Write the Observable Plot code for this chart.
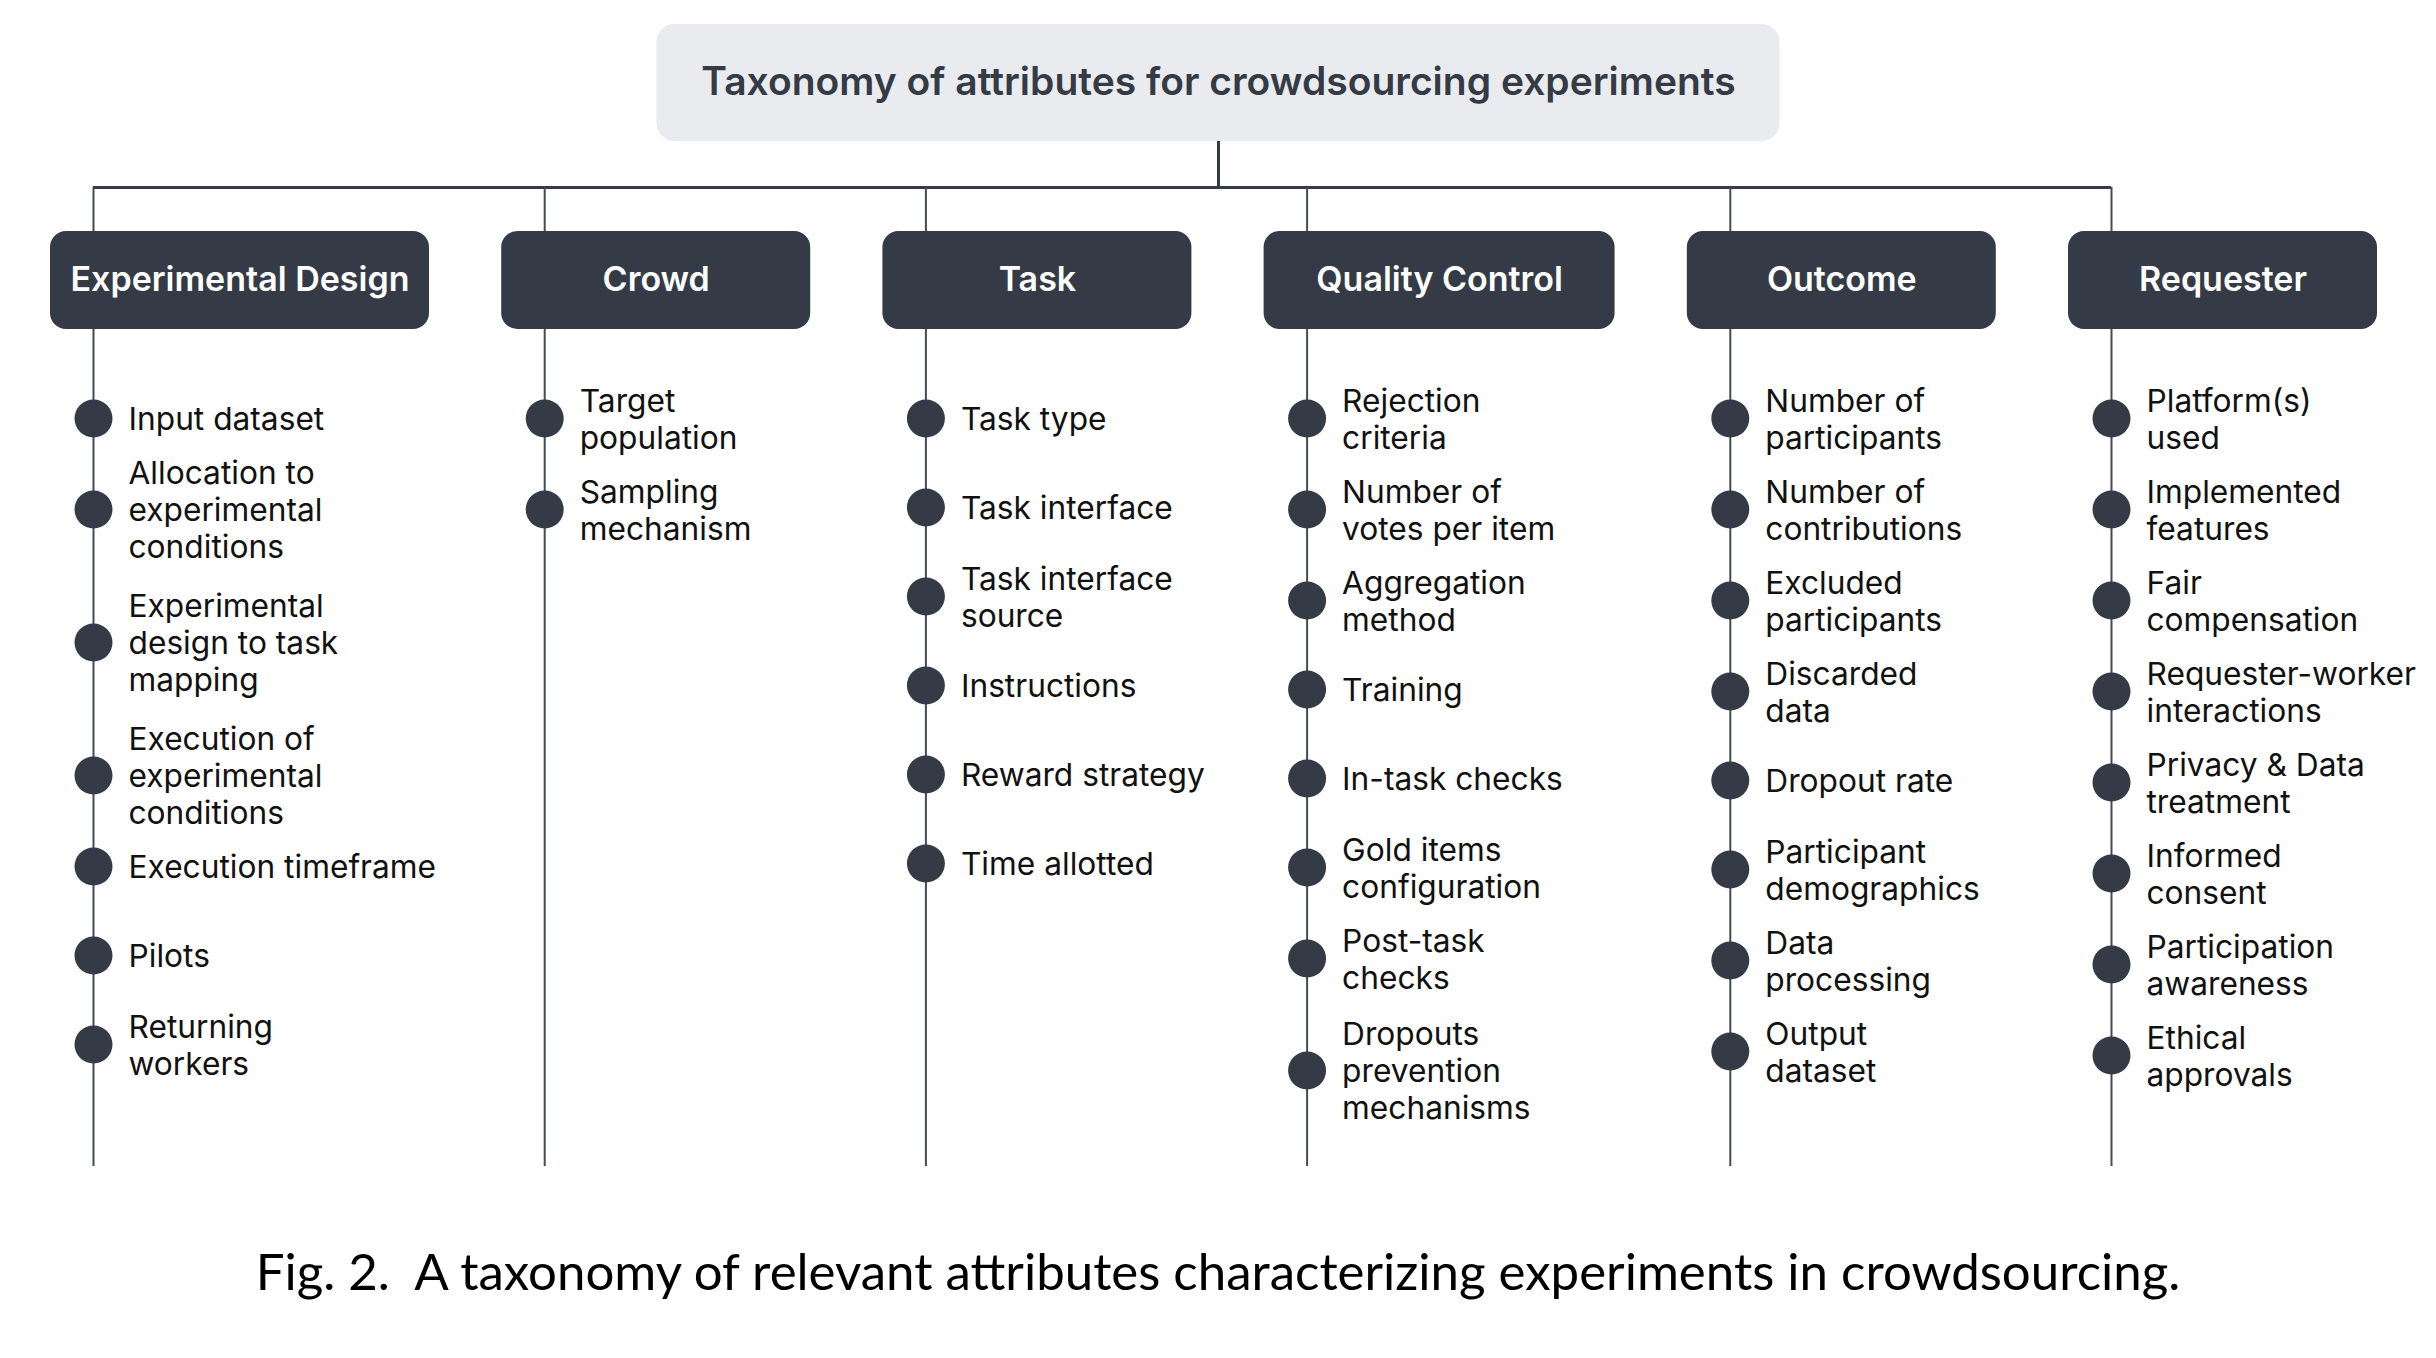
<!DOCTYPE html>
<html><head><meta charset="utf-8">
<script src="https://cdn.jsdelivr.net/npm/d3@7"></script>
<script src="https://cdn.jsdelivr.net/npm/@observablehq/plot@0.6"></script>
<style>
html,body{margin:0;padding:0;background:#fff;}
#chart svg{display:block;}
#caption{font-family:Lato,"Open Sans",sans-serif;font-size:51px;text-align:center;line-height:112px;height:143px;color:#000;white-space:pre;}
</style></head><body>
<div id="chart"></div>
<div id="caption"></div>
<script>
// ---- data ----
const rootTitle = "Taxonomy of attributes for crowdsourcing experiments";
const categories = ["Experimental Design", "Crowd", "Task", "Quality Control", "Outcome", "Requester"];
const experimentalDesignItems = ["Input dataset", "Allocation to\nexperimental\nconditions", "Experimental\ndesign to task\nmapping", "Execution of\nexperimental\nconditions", "Execution timeframe", "Pilots", "Returning\nworkers"];
const crowdItems = ["Target\npopulation", "Sampling\nmechanism"];
const taskItems = ["Task type", "Task interface", "Task interface\nsource", "Instructions", "Reward strategy", "Time allotted"];
const qualityControlItems = ["Rejection\ncriteria", "Number of\nvotes per item", "Aggregation\nmethod", "Training", "In-task checks", "Gold items\nconfiguration", "Post-task\nchecks", "Dropouts\nprevention\nmechanisms"];
const outcomeItems = ["Number of\nparticipants", "Number of\ncontributions", "Excluded\nparticipants", "Discarded\ndata", "Dropout rate", "Participant\ndemographics", "Data\nprocessing", "Output\ndataset"];
const requesterItems = ["Platform(s)\nused", "Implemented\nfeatures", "Fair\ncompensation", "Requester-worker\ninteractions", "Privacy & Data\ntreatment", "Informed\nconsent", "Participation\nawareness", "Ethical\napprovals"];
const captionText = "Fig. 2.  A taxonomy of relevant attributes characterizing experiments in crowdsourcing.";

const itemLists = [experimentalDesignItems, crowdItems, taskItems, qualityControlItems, outcomeItems, requesterItems];

// ---- layout rules ----
const W = 2436, H = 1215;
const L = {left: 50, right: 2377, boxTop: 231, boxH: 98, boxMinW: 309, boxPerChar: 7,
  lineOffset: 43, textOffset: 35, rootTop: 24, rootH: 117, rootPerChar: 21.6, busY: 187,
  firstItemY: 418, lineBottom: 1166, minStep: 89, perLine: 21, stepBase: 7};
const dark = "#353b46", lineColor = "#454a53";
const sans = "Inter, 'Noto Sans', 'Liberation Sans', sans-serif";

const boxW = categories.map(c => L.boxMinW + Math.max(0, c.length - 9) * L.boxPerChar);
const gap = (L.right - L.left - d3.sum(boxW)) / (categories.length - 1);
let cursor = L.left;
const columns = categories.map((name, i) => {
  const c = {name, x1: cursor, x2: cursor + boxW[i], lineX: cursor + L.lineOffset};
  cursor += boxW[i] + gap;
  return c;
});
const items = [];
columns.forEach((col, i) => {
  const list = itemLists[i];
  let y = L.firstItemY;
  list.forEach((label, j) => {
    const n = label.split("\n").length;
    if (j > 0) {
      const p = list[j - 1].split("\n").length;
      y += Math.max(L.minStep, L.perLine * (p + n) + L.stepBase);
    }
    items.push({category: col.name, label, x: col.lineX, y});
  });
});
const cx = W / 2;
const rootW = rootTitle.length * L.rootPerChar;
const root = [{title: rootTitle, x1: cx - rootW / 2, x2: cx + rootW / 2, y1: L.rootTop, y2: L.rootTop + L.rootH, cx}];
const bus = [{x1: columns[0].lineX, x2: columns[columns.length - 1].lineX, y: L.busY}];

const chart = Plot.plot({
  width: W, height: H, margin: 0,
  style: {fontFamily: sans, background: "#fff"},
  x: {domain: [0, W], range: [0, W], axis: null},
  y: {domain: [0, H], range: [0, H], axis: null},
  marks: [
    Plot.rect(root, {x1: "x1", x2: "x2", y1: "y1", y2: "y2", fill: "#e9ebef", rx: 18}),
    Plot.text(root, {x: "cx", y: d => (d.y1 + d.y2) / 2, text: "title", fontSize: 39, fontWeight: 600, fill: "#353b45"}),
    Plot.ruleX(root, {x: "cx", y1: "y2", y2: () => L.busY, stroke: dark, strokeWidth: 3}),
    Plot.ruleY(bus, {y: "y", x1: "x1", x2: "x2", stroke: dark, strokeWidth: 3}),
    Plot.ruleX(columns, {x: "lineX", y1: () => L.busY, y2: () => L.boxTop, stroke: lineColor, strokeWidth: 2}),
    Plot.ruleX(columns, {x: "lineX", y1: () => L.boxTop + L.boxH, y2: () => L.lineBottom, stroke: lineColor, strokeWidth: 2}),
    Plot.rect(columns, {x1: "x1", x2: "x2", y1: () => L.boxTop, y2: () => L.boxTop + L.boxH, fill: dark, rx: 16}),
    Plot.text(columns, {x: d => (d.x1 + d.x2) / 2, y: () => L.boxTop + L.boxH / 2, text: "name", fill: "white", fontSize: 34, fontWeight: 600}),
    Plot.dot(items, {x: "x", y: "y", r: 19, fill: dark}),
    Plot.text(items, {x: d => d.x + L.textOffset, y: "y", text: "label", textAnchor: "start", fontSize: 31.7, lineHeight: 1.17, fill: "#111"})
  ]
});
document.getElementById("chart").appendChild(chart);
document.getElementById("caption").textContent = captionText;
</script>
</body></html>
